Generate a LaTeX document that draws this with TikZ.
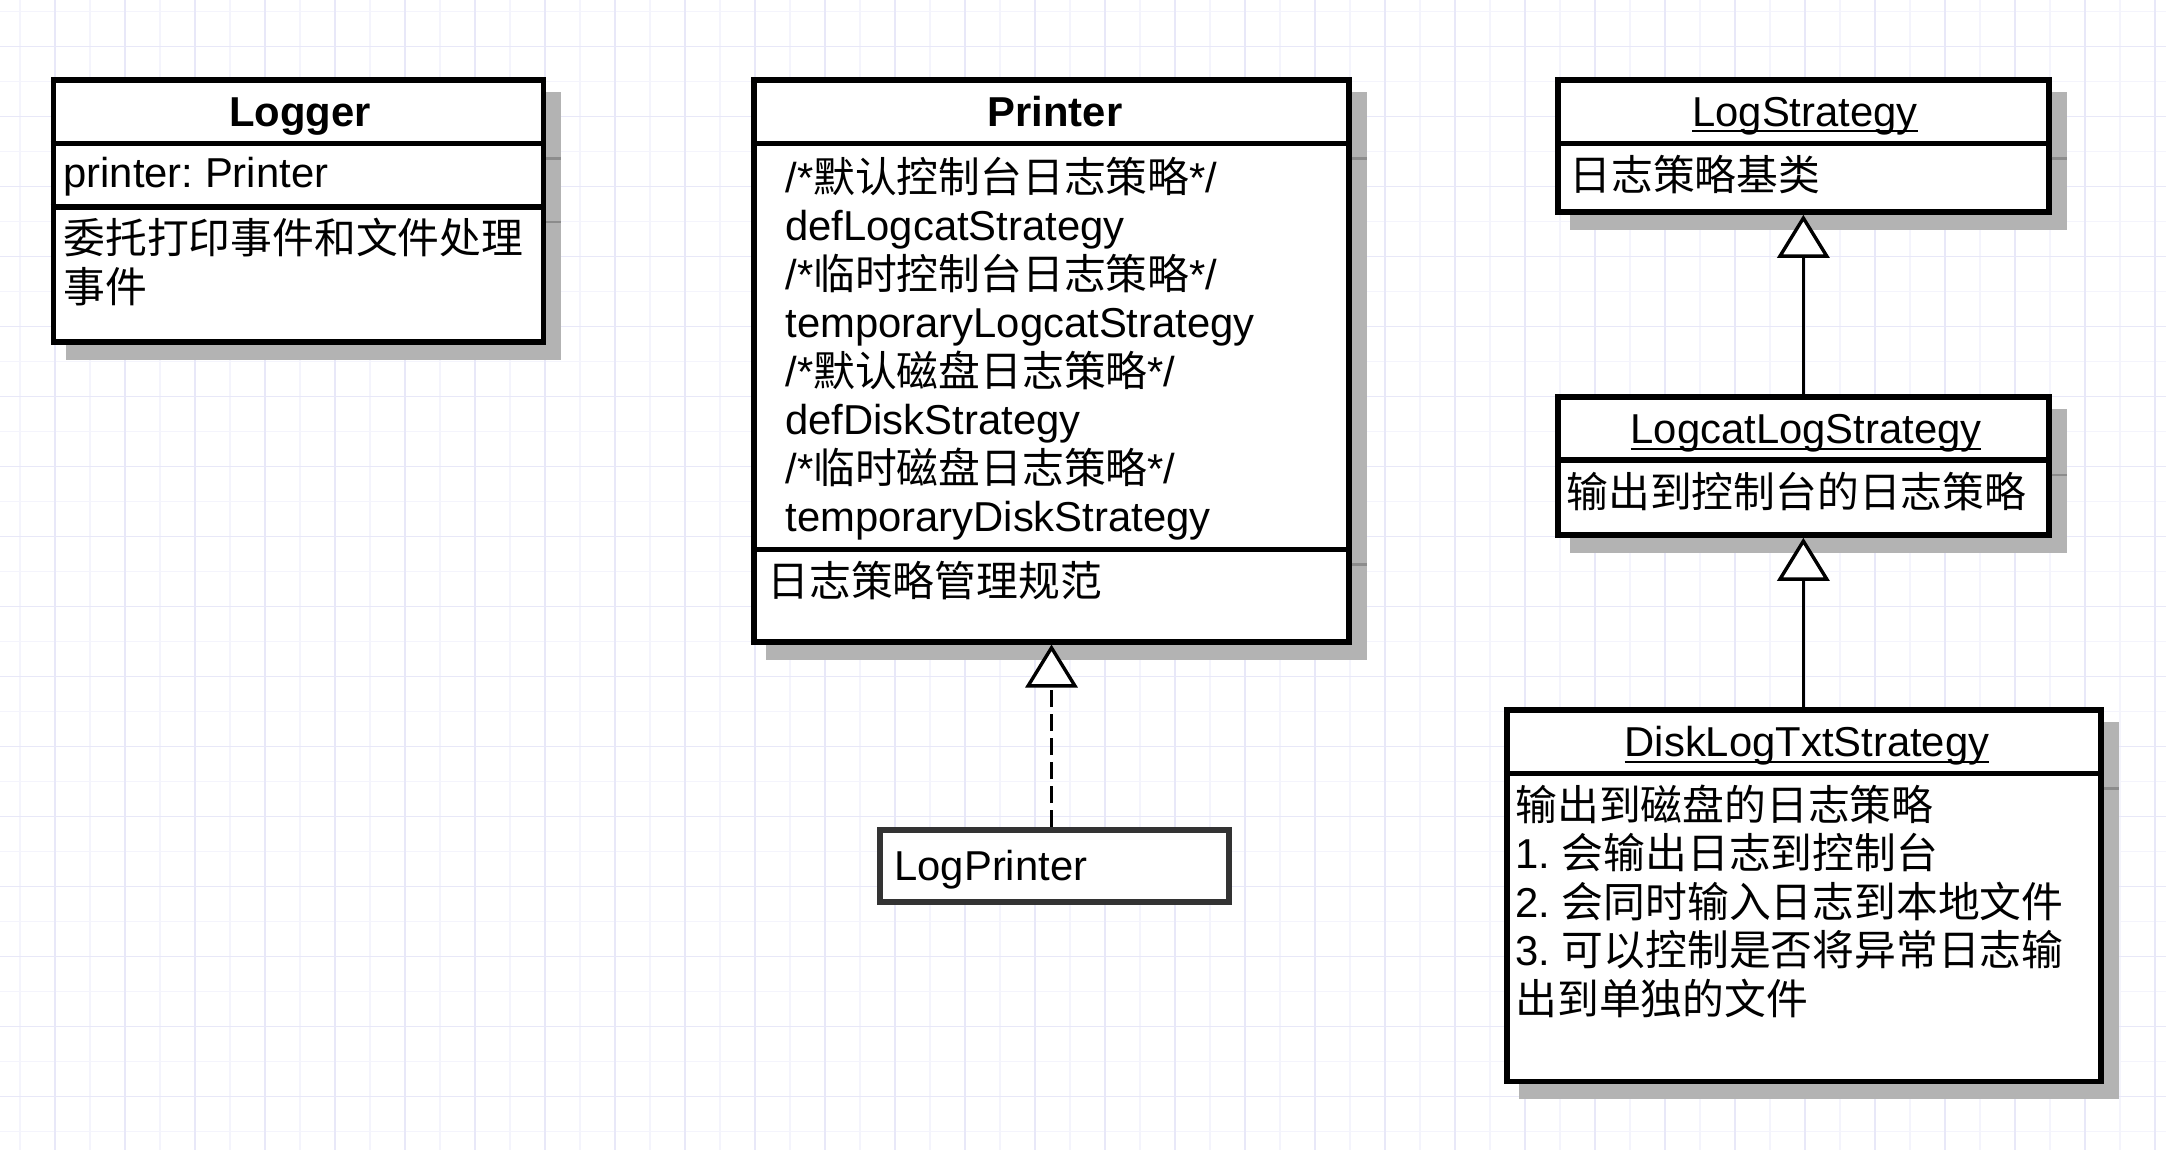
\documentclass[tikz,border=0pt]{standalone}
\usepackage{fontspec}
\setmainfont{Liberation Sans}
\newfontfamily\cjk{Noto Sans CJK SC}
\usetikzlibrary{arrows.meta,shadows}
\newcommand\zh[1]{{\cjk #1}}
\newcommand\umlul[1]{\setbox0\hbox{#1}\rlap{\rule[-3pt]{\wd0}{1pt}}\box0}
\definecolor{gridmajor}{RGB}{232,232,248}
\definecolor{gridminor}{RGB}{244,244,252}
\definecolor{shgray}{RGB}{179,179,179}
\definecolor{divshade}{RGB}{140,140,140}
\definecolor{darkborder}{RGB}{51,51,51}
\frenchspacing
\begin{document}
\begin{tikzpicture}[x=0.5pt,y=-0.5pt,
  every node/.style={inner sep=0pt},
  txt/.style={font=\fontsize{20.9pt}{24.25pt}\selectfont, anchor=base west},
  ttl/.style={font=\fontsize{20.9pt}{24.25pt}\selectfont, anchor=base},
  bttl/.style={font=\fontsize{20.9pt}{24.25pt}\selectfont\bfseries, anchor=base},
  umlbox/.style={draw=black, fill=white, line width=2.8pt,
    drop shadow={shadow xshift=7.5pt, shadow yshift=-7.5pt, fill=shgray, draw=shgray, line width=2.8pt, opacity=1}},
  plainbox/.style={draw=darkborder, fill=white, line width=2.8pt},
  divider/.style={draw=black, line width=2.8pt},
  divshadow/.style={draw=divshade, line width=1.2pt},
  inherit/.style={draw=black, line width=1.7pt, -{Triangle[open, fill=white, length=21.5pt, width=26pt]}},
  realize/.style={inherit, dash pattern=on 8.5pt off 3.5pt}
]
\useasboundingbox (0,0) rectangle (2166,1150);
\fill[white] (0,0) rectangle (2166,1150);
% grid
\foreach \i in {0,2,...,60} \draw[gridminor, line width=0.75pt] ({20+35*\i},0) -- ({20+35*\i},1150);
\foreach \j in {0,2,...,32} \draw[gridminor, line width=0.75pt] (0,{11.7+35*\j}) -- (2166,{11.7+35*\j});
\foreach \i in {1,3,...,61} \draw[gridmajor, line width=0.75pt] ({20+35*\i},0) -- ({20+35*\i},1150);
\foreach \j in {1,3,...,31} \draw[gridmajor, line width=0.75pt] (0,{11.7+35*\j}) -- (2166,{11.7+35*\j});

% boxes
\node[umlbox, minimum width=245pt, minimum height=131pt] (logger) at (298.5,211) {};
\node[umlbox, minimum width=297.5pt, minimum height=280.85pt] (printer) at (1051.5,360.85) {};
\node[umlbox, minimum width=245.35pt, minimum height=66pt] (logstrat) at (1803.35,146) {};
\node[umlbox, minimum width=245.35pt, minimum height=69pt] (logcat) at (1803.35,466) {};
\node[umlbox, minimum width=297.15pt, minimum height=185.8pt] (disk) at (1803.85,895.8) {};
\node[plainbox, minimum width=174.5pt, minimum height=36pt] (logprinter) at (1054.5,866) {};

% dividers and their shadows
\foreach \y in {143.7,207} {
  \draw[divider] (logger.west |- 0,\y) -- (logger.east |- 0,\y);
  \draw[divshadow] (logger.east |- 0,{\y+15}) -- ++(15,0);
}
\foreach \y in {143.7,549.5} {
  \draw[divider] (printer.west |- 0,\y) -- (printer.east |- 0,\y);
  \draw[divshadow] (printer.east |- 0,{\y+15}) -- ++(15,0);
}
\draw[divider] (logstrat.west |- 0,143.5) -- (logstrat.east |- 0,143.5);
\draw[divshadow] (logstrat.east |- 0,158.5) -- ++(15,0);
\draw[divider] (logcat.west |- 0,460) -- (logcat.east |- 0,460);
\draw[divshadow] (logcat.east |- 0,475) -- ++(15,0);
\draw[divider] (disk.west |- 0,773.3) -- (disk.east |- 0,773.3);
\draw[divshadow] (disk.east |- 0,788.3) -- ++(15,0);

% Logger texts
\node[bttl] (logger-name) at (300,126.5) {Logger};
\node[txt] (logger-attr) at (63,188) {printer: Printer};
\node[txt] (logger-op1) at (63,254) {\zh{委托打印事件和文件处理}};
\node[txt] (logger-op2) at (63,302) {\zh{事件}};

% Printer texts
\node[bttl] (printer-name) at (1055,126.5) {Printer};
\foreach \t [count=\i] in {{/*\zh{默认控制台日志策略}*/},defLogcatStrategy,{/*\zh{临时控制台日志策略}*/},temporaryLogcatStrategy,{/*\zh{默认磁盘日志策略}*/},defDiskStrategy,{/*\zh{临时磁盘日志策略}*/},temporaryDiskStrategy}
  \node[txt] (printer-attr\i) at (785,{192+48.5*(\i-1)}) {\t};
\node[txt] (printer-op) at (767,596.5) {\zh{日志策略管理规范}};

% LogStrategy
\node[ttl] (logstrat-name) at (1805,126.5) {\umlul{LogStrategy}};
\node[txt] (logstrat-op) at (1569,190.5) {\zh{日志策略基类}};

% LogcatLogStrategy
\node[ttl] (logcat-name) at (1806,443.5) {\umlul{LogcatLogStrategy}};
\node[txt] (logcat-op) at (1566,507) {\zh{输出到控制台的日志策略}};

% DiskLogTxtStrategy
\node[ttl] (disk-name) at (1807,756.5) {\umlul{DiskLogTxtStrategy}};
\foreach \t [count=\i] in {{\zh{输出到磁盘的日志策略}},{1. \zh{会输出日志到控制台}},{2. \zh{会同时输入日志到本地文件}},{3. \zh{可以控制是否将异常日志输}},{\zh{出到单独的文件}}}
  \node[txt] (disk-op\i) at (1515,{820.3+48.5*(\i-1)}) {\t};

% LogPrinter
\node[txt] (logprinter-name) at (894,880) {LogPrinter};

% connectors
\draw[realize] (printer.south |- logprinter.north) -- (printer.south);
\draw[inherit] (logcat.north) -- (logstrat.south);
\draw[inherit] (logcat.south |- disk.north) -- (logcat.south);
\end{tikzpicture}
\end{document}
